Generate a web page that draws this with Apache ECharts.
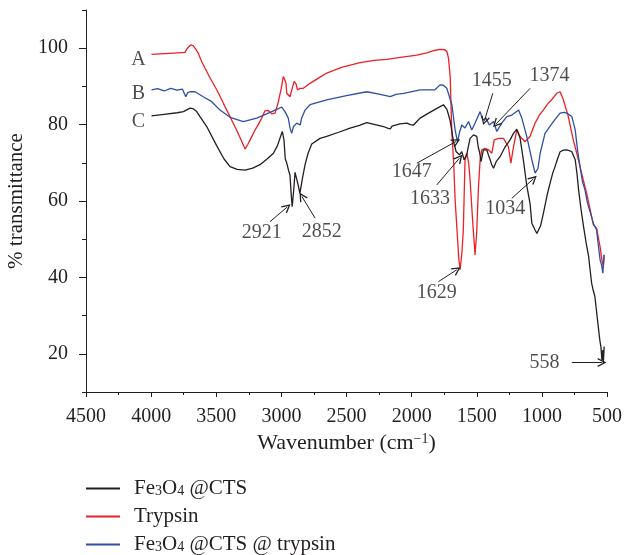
<!DOCTYPE html>
<html><head><meta charset="utf-8">
<script src="https://cdn.jsdelivr.net/npm/echarts@6/dist/echarts.min.js"></script>
<style>html,body{margin:0;padding:0;background:#fff}#c{width:624px;height:555px}</style>
</head><body><div id="c"></div>
<script>
// ---- data (wavenumber cm-1, % transmittance) ----
const seriesNames = ['Fe3O4 @CTS', 'Trypsin', 'Fe3O4 @CTS @ trypsin'];
const xTickLabels = [4500, 4000, 3500, 3000, 2500, 2000, 1500, 1000, 500];
const yTickLabels = [20, 40, 60, 80, 100];

const fe3o4Cts = [
  [3997,82.3],[3900,82.7],[3800,83.1],[3752,83.4],[3701,84.3],[3680,84.2],[3650,83.4],[3625,82.1],[3573,79.5],
  [3497,74.5],[3440,71],[3394,69],[3340,68.3],[3279,68.1],[3220,68.6],[3164,69.5],[3110,71],[3061,72.5],[3030,74.5],
  [3005,77],[2993,78.2],[2980,76],[2970,71],[2959,70],[2945,68],[2934,66.8],[2925,62],[2917,58.5],[2905,63],
  [2895,67.5],[2882,67],[2870,64],[2858,62],[2850,62.5],[2838,66],[2818,69.5],[2795,72.5],[2767,74.9],[2703,76.4],
  [2652,76.9],[2560,78],[2473,79.1],[2400,79.8],[2344,80.5],[2280,80],[2216,79.5],[2180,79],[2164,78.9],[2150,79.6],
  [2139,79.9],[2090,80.2],[2036,80.4],[2010,80],[1985,79.9],[1960,80.8],[1935,81.7],[1880,82.8],[1830,83.8],[1782,84.7],
  [1756,85.2],[1729,84],[1704,81],[1690,78],[1678,75.5],[1658,72.9],[1645,72.4],[1633,72.1],[1615,72.9],[1597,70.8],
  [1577,72.1],[1563,74.5],[1551,76.4],[1525,77.3],[1500,76.9],[1488,74],[1479,72.9],[1467,70.3],[1449,73.4],[1423,73.4],
  [1410,72],[1397,70.8],[1385,69.5],[1371,68.6],[1351,70.3],[1321,71.6],[1282,74.2],[1244,76],[1218,77.7],[1192,78.8],
  [1167,76.4],[1141,70.5],[1116,64],[1091,59.4],[1077,54.2],[1052,52.4],[1038,51.5],[1026,51.1],[1010,53.5],[988,56.8],
  [960,61.5],[937,64.7],[915,67.5],[899,69],[880,71],[860,72.9],[835,73.3],[809,73.4],[790,73.2],[770,72.9],
  [744,70.8],[730,67],[718,62.9],[700,58],[680,53.3],[660,49],[641,45.5],[630,42],[618,38.5],[605,36.5],
  [593,35],[580,31],[567,27.1],[555,23.5],[547,21.9],[539,18.4],[532,21],[528,17.5],[522,21.9]
];

const trypsin = [
  [3997,98.4],[3896,98.6],[3796,98.8],[3740,98.9],[3726,99.8],[3714,99.4],[3696,100.9],[3676,100.6],[3655,99.6],
  [3638,98.7],[3612,96.5],[3587,94.8],[3544,92],[3494,89],[3444,85.5],[3393,82],[3343,78.5],[3303,75.5],[3279,73.6],
  [3258,74.8],[3240,76],[3202,78.6],[3177,80],[3151,81.7],[3126,83.6],[3100,83.7],[3074,82.8],[3048,83],[3023,86],
  [3001,89.5],[2985,92.6],[2971,91.5],[2964,90.8],[2959,88.2],[2934,87.3],[2921,86.9],[2902,91.3],[2887,90.6],
  [2877,89.1],[2856,89.5],[2831,89.5],[2780,90.8],[2709,92.3],[2652,93.5],[2538,95],[2395,96.2],[2287,96.8],
  [2191,97.1],[2086,97.6],[1960,98.2],[1884,98.8],[1824,99.4],[1782,99.7],[1744,99.6],[1728,99],[1717,97.4],
  [1704,92.6],[1691,77.7],[1677,70],[1666,60.3],[1651,52],[1638,45],[1628,42],[1615,46],[1603,52.4],[1590,70.8],
  [1577,72.5],[1562,70],[1551,65.5],[1532,55],[1513,45.9],[1500,52],[1488,62.9],[1474,70.8],[1461,73.4],[1436,73.8],
  [1410,73.4],[1384,72.5],[1366,76],[1333,76.4],[1295,76.4],[1257,74.2],[1238,69.9],[1218,74.2],[1192,78.6],
  [1167,76.9],[1129,75.5],[1091,76.9],[1052,80.4],[1019,82.5],[989,83.8],[954,85.5],[925,86.5],[886,88.2],
  [860,88.6],[835,86.5],[818,84.5],[797,82.1],[778,79],[759,76],[732,72.5],[707,69],[682,65.5],[656,62],
  [637,59],[618,55.9],[605,53.8],[593,53.3],[580,52.9],[567,50.5],[553,48],[541,45],[528,42.8],[522,45.9]
];

const fe3o4CtsTrypsin = [
  [3997,89.1],[3950,89.4],[3900,88.8],[3850,89.5],[3800,89.0],[3760,89.3],[3752,89.1],[3734,87.3],[3720,88.3],
  [3702,88.6],[3663,88.6],[3600,87.3],[3535,86],[3471,83.8],[3394,81.9],[3292,80.8],[3189,81.7],[3113,82.8],
  [3035,84],[2997,84.6],[2972,83.4],[2947,81.7],[2933,79],[2921,77.7],[2907,79.5],[2895,79.9],[2882,80.4],
  [2856,79.9],[2844,81.7],[2818,83.8],[2780,85.2],[2652,86.5],[2500,87.6],[2344,88.6],[2250,88],[2164,87.3],
  [2120,87.9],[2061,88.2],[1935,89.1],[1821,89.1],[1782,90.4],[1756,90.3],[1730,89.5],[1717,89.1],[1691,85.2],
  [1666,78.6],[1648,75.5],[1632,78],[1615,79.9],[1590,79.1],[1563,80.8],[1538,78.6],[1513,80.4],[1474,83.4],
  [1454,81.2],[1429,81.7],[1403,79.9],[1371,80.8],[1346,78.2],[1308,80.4],[1269,82.1],[1230,82.5],[1179,83.8],
  [1154,81.7],[1116,76.9],[1077,70.8],[1052,67.3],[1040,67],[1030,68.5],[1013,72.5],[976,77.7],[912,80.8],
  [860,83],[830,83.2],[809,83],[770,82.1],[744,78.6],[725,73],[707,69],[688,65],[669,62.9],[650,59.5],
  [630,57.2],[605,54.2],[580,52.4],[565,48],[553,44.6],[540,43],[532,41.1],[522,45.9]
];

// ---- annotations ----
const annoTexts = ['2921', '2852', '1629', '1647', '1633', '1455', '1374', '1034', '558', 'A', 'B', 'C'];
const annoTextPos = [
  [3151,51.6],[2690,52],[1807,35.9],[1999,67.7],[1858,60.7],[1384,91.4],[942,92.7],[1282,57.9],[980,17.7],
  [4098,97.1],[4098,88.2],[4098,80.8]
];
const arrowFrom = [[3087,54.6],[2741,55.5],[1794,38.9],[1960,69.9],[1807,64.2],[1377,88.2],[1090,89.5],[1231,60.7],[770,17.7]];
const arrowTo   = [[2956,58.4],[2843,61.2],[1653,42],[1658,75.6],[1633,71.2],[1441,81],[1351,80.2],[1065,65.8],[539,17.7]];

const FONT = 'Liberation Serif';
const INK = '#231f20';
const colors = ['#231f20', '#ec2027', '#2f4fa3'];

const chart = echarts.init(document.getElementById('c'));
const arrowPath = 'path://M0,10 L5,0 L10,10 L8.6,10.6 L5,3.2 L1.4,10.6 Z';

chart.setOption({
  animation: false,
  backgroundColor: '#fff',
  grid: { left: 86, right: 17, top: 10, bottom: 163, containLabel: false, outerBoundsMode: 'none' },
  legend: {
    data: seriesNames,
    orient: 'vertical',
    left: 86, top: 478, height: 90, padding: 0,
    itemWidth: 34, itemHeight: 2, itemGap: 7,
    icon: 'rect',
    formatter: function (n) {
      if (n === 'Fe3O4 @CTS') return 'Fe{sub|3}O{sub|4} @CTS';
      if (n === 'Fe3O4 @CTS @ trypsin') return 'Fe{sub|3}O{sub|4} @CTS @ trypsin';
      return n;
    },
    textStyle: {
      fontFamily: FONT, fontSize: 21, lineHeight: 20, color: INK, padding: [0, 0, 0, 9],
      rich: { sub: { fontFamily: FONT, fontSize: 14, lineHeight: 6, color: INK, verticalAlign: 'bottom' } }
    }
  },
  xAxis: [{
    type: 'value', min: 500, max: 4500, interval: 500, inverse: true,
    name: 'Wavenumber (cm{sup|−1})', nameLocation: 'middle', nameGap: 38,
    nameTextStyle: {
      fontFamily: FONT, fontSize: 22, color: INK,
      rich: { sup: { fontFamily: FONT, fontSize: 14, color: INK, verticalAlign: 'top', padding: [0, 0, 9, 0] } }
    },
    axisLine: { show: true, lineStyle: { color: INK, width: 1 } },
    axisTick: { show: true, length: 5, lineStyle: { color: INK } },
    minorTick: { show: true, splitNumber: 2, length: 3, lineStyle: { color: INK } },
    axisLabel: { fontFamily: FONT, fontSize: 20, color: INK, margin: 15,
      formatter: v => (xTickLabels.indexOf(v) >= 0 ? String(v) : '') },
    splitLine: { show: false }, minorSplitLine: { show: false }
  }],
  yAxis: [{
    type: 'value', min: 10, max: 110, interval: 10,
    name: '% transmittance', nameLocation: 'middle', nameGap: 59,
    nameTextStyle: { fontFamily: FONT, fontSize: 21, color: INK },
    axisLine: { show: true, lineStyle: { color: INK, width: 1 } },
    axisTick: { show: true, length: 4, lineStyle: { color: INK } },
    axisLabel: { fontFamily: FONT, fontSize: 20, color: INK, margin: 18,
      formatter: v => (yTickLabels.indexOf(v) >= 0 ? String(v) : '') },
    splitLine: { show: false }
  }, {
    type: 'value', min: 10, max: 110, interval: 10, position: 'left', offset: 0,
    axisLine: { show: false },
    axisTick: { show: true, length: 7, customValues: yTickLabels, lineStyle: { color: INK } },
    axisLabel: { show: false },
    splitLine: { show: false }
  }],
  series: [
    { name: seriesNames[0], type: 'line', data: fe3o4Cts, showSymbol: false, symbol: 'none',
      lineStyle: { color: colors[0], width: 1.3 }, itemStyle: { color: colors[0] }, z: 3 },
    { name: seriesNames[1], type: 'line', data: trypsin, showSymbol: false, symbol: 'none',
      lineStyle: { color: colors[1], width: 1.3 }, itemStyle: { color: colors[1] }, z: 2 },
    { name: seriesNames[2], type: 'line', data: fe3o4CtsTrypsin, showSymbol: false, symbol: 'none',
      lineStyle: { color: colors[2], width: 1.3 }, itemStyle: { color: colors[2] }, z: 2 },
    { name: 'arrows', type: 'line', data: [], silent: true,
      markLine: {
        silent: true, animation: false,
        symbol: ['none', arrowPath], symbolSize: [9, 9],
        label: { show: false },
        lineStyle: { color: INK, width: 1, type: 'solid' },
        emphasis: { disabled: true },
        data: arrowFrom.map((f, i) => [{ coord: f }, { coord: arrowTo[i] }])
      } },
    { name: 'labels', type: 'scatter', silent: true, symbolSize: 1,
      itemStyle: { color: 'rgba(0,0,0,0)' },
      label: { show: true, position: 'inside', formatter: p => p.name,
        fontFamily: FONT, fontSize: 20, color: INK },
      data: annoTexts.map((t, i) => ({ name: t, value: annoTextPos[i] })) }
  ]
});
</script>
</body></html>
